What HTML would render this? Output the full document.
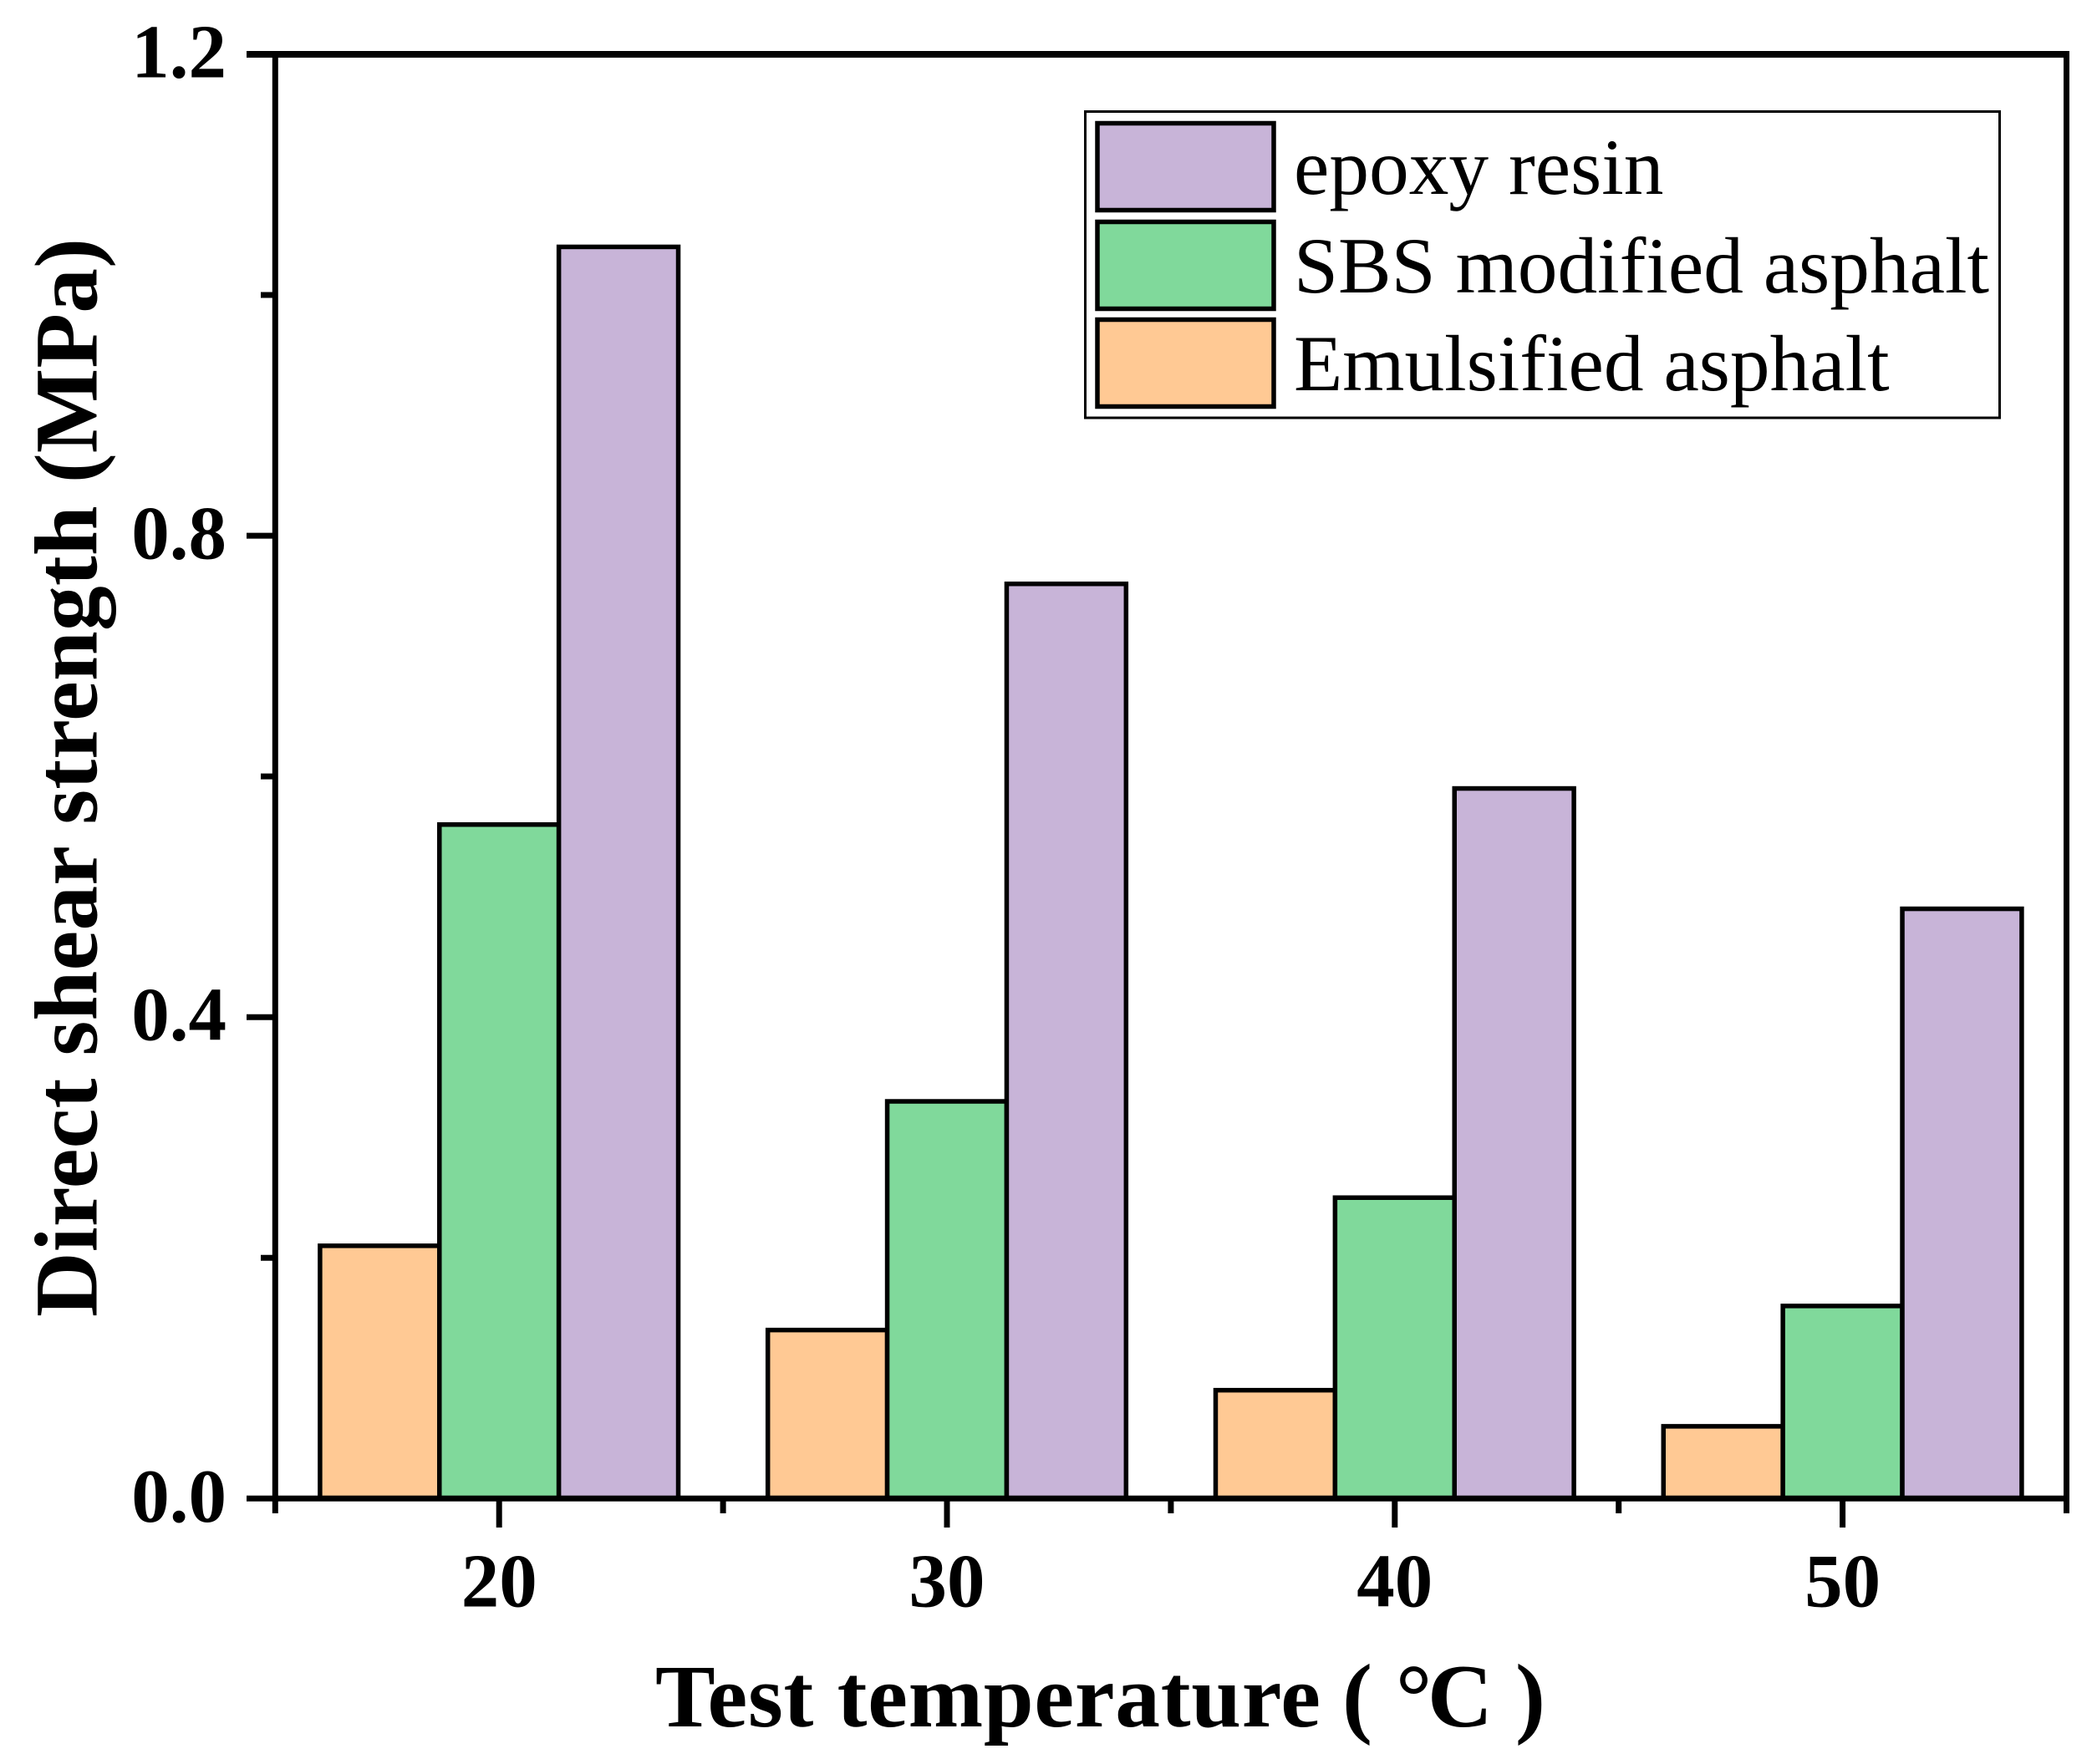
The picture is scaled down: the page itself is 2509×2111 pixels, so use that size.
<!DOCTYPE html>
<html lang="en">
<head>
<meta charset="utf-8">
<title>Direct shear strength vs test temperature</title>
<style>
  html, body { margin: 0; padding: 0; background: #fff; }
  svg { display: block; }
  text { font-family: "Liberation Serif", "Times New Roman", serif; fill: #000; }
  .bold { font-weight: 700; }
</style>
</head>
<body>
<svg id="chart" xmlns="http://www.w3.org/2000/svg" width="2509" height="2111" viewBox="0 0 2509 2111">
  <rect x="0" y="0" width="2509" height="2111" fill="#ffffff"/>
  <g id="bars"></g>
  <g id="axes"></g>
  <g id="legend"></g>
  <text class="bold" y="2066" font-size="107.5"><tspan x="784" textLength="796" lengthAdjust="spacing">Test temperature</tspan><tspan font-size="108" x="1606">(</tspan><tspan font-size="108" x="1670">°</tspan><tspan font-size="108" x="1708">C</tspan><tspan font-size="108" x="1813">)</tspan></text>
  <text class="bold" transform="translate(115.5 1576) rotate(-90)" x="0" y="0" font-size="107.5" textLength="1291" lengthAdjust="spacing">Direct shear strength (MPa)</text>
</svg>
<script>
var temperatures = [20, 30, 40, 50];
var emulsifiedValues = [0.21, 0.14, 0.09, 0.06];
var sbsValues = [0.56, 0.33, 0.25, 0.16];
var epoxyValues = [1.04, 0.76, 0.59, 0.49];
var yMajorTicks = [0, 0.4, 0.8, 1.2];
var yMinorTicks = [0.2, 0.6, 1.0];
var xMajorTicks = [20, 30, 40, 50];
var xMinorTicks = [15, 25, 35, 45, 55];
var legendLabels = ['epoxy resin', 'SBS modified asphalt', 'Emulsified asphalt'];

var NS = 'http://www.w3.org/2000/svg';
var COLOR_EPOXY = '#c8b4d8';
var COLOR_SBS = '#80d99b';
var COLOR_EMULSIFIED = '#ffc994';

function xScale(v) { return 329.3 + (v - 15) * (2472.5 - 329.3) / 40; }
function yScale(v) { return 1793.3 - v * (1793.3 - 65) / 1.2; }

function shape(tag, attrs, parent) {
  var el = document.createElementNS(NS, tag);
  for (var k in attrs) { el.setAttribute(k, attrs[k]); }
  parent.appendChild(el);
  return el;
}

var barsLayer = document.getElementById('bars');
var axesLayer = document.getElementById('axes');
var legendLayer = document.getElementById('legend');

var barWidthUnits = 8 / 3;

function drawSeries(values, offset, color, seriesName) {
  values.forEach(function (v, i) {
    var left = xScale(temperatures[i] + offset * barWidthUnits - barWidthUnits / 2);
    var right = xScale(temperatures[i] + offset * barWidthUnits + barWidthUnits / 2);
    var top = yScale(v);
    var bar = shape('rect', {
      x: left, y: top, width: right - left, height: yScale(0) - top,
      fill: color, stroke: '#000', 'stroke-width': 5.5
    }, barsLayer);
    
    
  });
}

drawSeries(emulsifiedValues, -1, COLOR_EMULSIFIED, 'emulsified-asphalt');
drawSeries(sbsValues, 0, COLOR_SBS, 'sbs-modified-asphalt');
drawSeries(epoxyValues, 1, COLOR_EPOXY, 'epoxy-resin');

/* spines */
var spineLeft = shape('line', { x1: xScale(15), x2: xScale(15), y1: yScale(1.2) - 4, y2: yScale(0) + 3.5, stroke: '#000', 'stroke-width': 7 }, axesLayer);


var spineRight = shape('line', { x1: xScale(55), x2: xScale(55), y1: yScale(1.2) - 4, y2: yScale(0) + 3.5, stroke: '#000', 'stroke-width': 7 }, axesLayer);


var spineTop = shape('line', { x1: xScale(15), x2: xScale(55) + 3.5, y1: yScale(1.2), y2: yScale(1.2), stroke: '#000', 'stroke-width': 8 }, axesLayer);


var spineBottom = shape('line', { x1: xScale(15), x2: xScale(55) + 3.5, y1: yScale(0), y2: yScale(0), stroke: '#000', 'stroke-width': 7 }, axesLayer);



/* y ticks */
yMajorTicks.forEach(function (v) {
  var y = yScale(v);
  var tick = shape('line', { x1: 295, x2: xScale(15), y1: y, y2: y, stroke: '#000', 'stroke-width': v === 1.2 ? 8 : 7 }, axesLayer);
  
  
  var label = shape('text', { x: 271, y: y + 27.5, 'font-size': 91, 'text-anchor': 'end', 'class': 'bold' }, axesLayer);
  label.textContent = v.toFixed(1);
  
  
});
yMinorTicks.forEach(function (v) {
  var y = yScale(v);
  var tick = shape('line', { x1: 312, x2: xScale(15), y1: y, y2: y, stroke: '#000', 'stroke-width': 7 }, axesLayer);
  
  
});

/* x ticks */
xMajorTicks.forEach(function (v) {
  var x = xScale(v);
  var tick = shape('line', { x1: x, x2: x, y1: yScale(0), y2: 1828, stroke: '#000', 'stroke-width': 7 }, axesLayer);
  
  
  var label = shape('text', { x: x, y: 1922.5, 'font-size': 91, 'text-anchor': 'middle', 'class': 'bold' }, axesLayer);
  label.textContent = String(v);
  
  
});
xMinorTicks.forEach(function (v) {
  var x = xScale(v);
  var tick = shape('line', { x1: x, x2: x, y1: yScale(0), y2: 1811, stroke: '#000', 'stroke-width': 7 }, axesLayer);
  
  
});

/* legend */
var legendBox = shape('rect', { x: 1298.5, y: 133.5, width: 2392.5 - 1298.5, height: 366.5, fill: '#fff', stroke: '#000', 'stroke-width': 3 }, legendLayer);


var legendColors = [COLOR_EPOXY, COLOR_SBS, COLOR_EMULSIFIED];
var legendTops = [147.5, 265.5, 382.5];
var legendBaselines = [232, 350, 467];
legendLabels.forEach(function (name, i) {
  var swatch = shape('rect', { x: 1313, y: legendTops[i], width: 211, height: 104, fill: legendColors[i], stroke: '#000', 'stroke-width': 5.5 }, legendLayer);
  
  
  var text = shape('text', { x: 1548, y: legendBaselines[i], 'font-size': 95.4 }, legendLayer);
  text.textContent = name;
  
  
});
</script>
</body>
</html>
